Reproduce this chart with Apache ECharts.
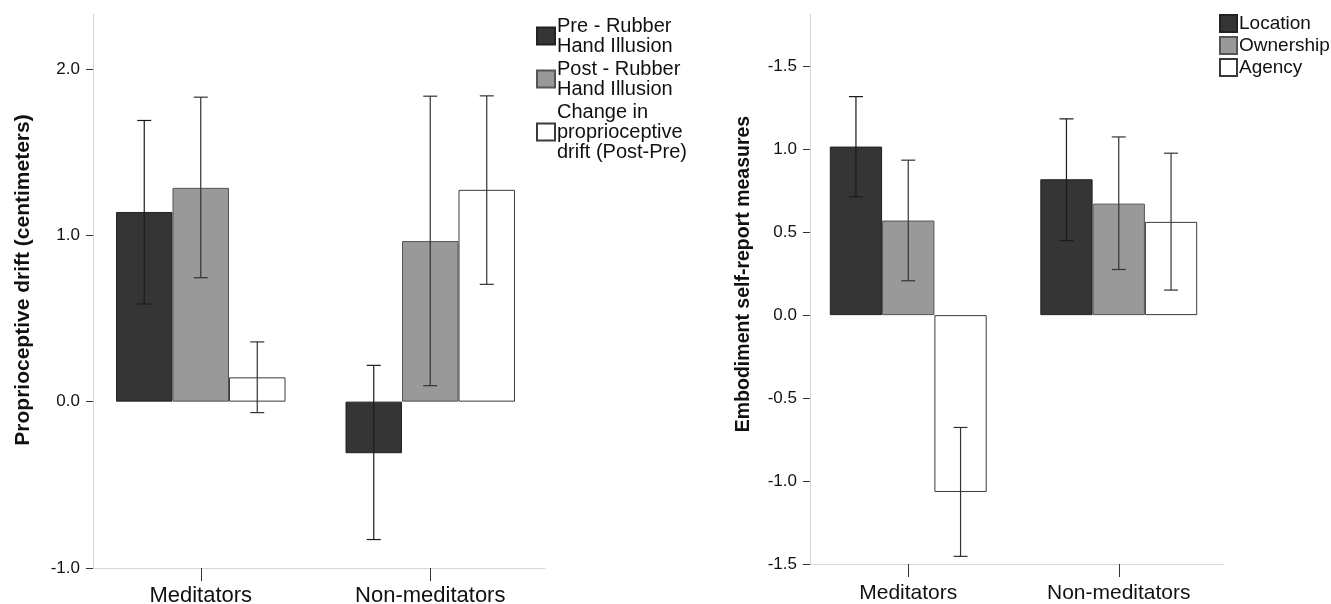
<!DOCTYPE html>
<html>
<head>
<meta charset="utf-8">
<script src="https://cdn.jsdelivr.net/npm/echarts@6.0.0/dist/echarts.min.js"></script>
<style>
  html, body { margin: 0; padding: 0; background: #fff; }
  #chart { width: 1331px; height: 604px; }
</style>
</head>
<body>
<div id="chart"></div>
<script>
// groups on both panels
const categories = ['Meditators', 'Non-meditators'];

// left panel: proprioceptive drift (cm), mean and error bar ends
const driftNames = ['Pre - Rubber\nHand Illusion', 'Post - Rubber\nHand Illusion', 'Change in\nproprioceptive\ndrift (Post-Pre)'];
const preMean = [1.14, -0.31];
const preLow = [0.587, -0.829];
const preHigh = [1.69, 0.218];
const postMean = [1.285, 0.965];
const postLow = [0.745, 0.096];
const postHigh = [1.83, 1.836];
const changeMean = [0.146, 1.273];
const changeLow = [-0.066, 0.705];
const changeHigh = [0.359, 1.838];
const driftTicks = [-1, 0, 1, 2];
const driftTickLabels = ['-1.0', '0.0', '1.0', '2.0'];

// right panel: embodiment self-report
const embodNames = ['Location', 'Ownership', 'Agency'];
const locationMean = [1.016, 0.819];
const locationLow = [0.713, 0.449];
const locationHigh = [1.317, 1.183];
const ownershipMean = [0.570, 0.672];
const ownershipLow = [0.207, 0.275];
const ownershipHigh = [0.934, 1.074];
const agencyMean = [-1.066, 0.562];
const agencyLow = [-1.454, 0.151];
const agencyHigh = [-0.677, 0.976];
const embodTicks = [-1.5, -1, -0.5, 0, 0.5, 1, 1.5];
const embodTickLabels = ['-1.5', '-1.0', '-0.5', '0.0', '0.5', '1.0', '-1.5'];

const FONT = '"Liberation Sans", Arial, sans-serif';
const fills = ['#353535', '#999999', '#ffffff'];
const borders = ['#222222', '#555555', '#3a3a3a'];

const tickFormatter = (ticks, labels) => (v) => {
  const i = ticks.findIndex((t) => Math.abs(t - v) < 1e-6);
  return i < 0 ? '' : labels[i];
};

const barSeries = (name, values, idx, grid, width) => ({
  name,
  type: 'bar',
  xAxisIndex: grid,
  yAxisIndex: grid,
  data: values,
  barWidth: width,
  barGap: '0%',
  itemStyle: { color: fills[idx], borderColor: borders[idx], borderWidth: 1 },
  emphasis: { disabled: true },
  z: 2,
});

// error bars, shifted to sit on the middle of each bar
const errSeries = (low, high, idx, grid, width) => ({
  type: 'custom',
  xAxisIndex: grid,
  yAxisIndex: grid,
  data: categories.map((c, i) => [i, low[i], high[i]]),
  encode: { x: 0, y: [1, 2] },
  z: 5,
  silent: true,
  renderItem: (params, api) => {
    const c = api.value(0);
    const lo = api.coord([c, api.value(1)]);
    const hi = api.coord([c, api.value(2)]);
    const x = lo[0] + (idx - 1) * width;
    const cap = 7;
    const style = { stroke: idx === 0 ? '#1a1a1a' : '#333', lineWidth: 1.2 };
    return {
      type: 'group',
      children: [
        { type: 'line', shape: { x1: x, y1: lo[1], x2: x, y2: hi[1] }, style },
        { type: 'line', shape: { x1: x - cap, y1: hi[1], x2: x + cap, y2: hi[1] }, style },
        { type: 'line', shape: { x1: x - cap, y1: lo[1], x2: x + cap, y2: lo[1] }, style },
      ],
    };
  },
});

const xAxisOf = (grid, fontSize, margin) => ({
  type: 'category',
  gridIndex: grid,
  data: categories,
  axisLine: { onZero: false, lineStyle: { color: '#d6d6d6', width: 1 } },
  axisTick: { show: true, alignWithLabel: true, length: 13, lineStyle: { color: '#333' } },
  axisLabel: { fontFamily: FONT, fontSize, color: '#111', margin },
});

const yAxisOf = (grid, name, min, max, interval, ticks, labels, gap, nameSize, shift) => ({
  type: 'value',
  gridIndex: grid,
  min,
  max,
  interval,
  offset: -7,
  name,
  nameLocation: 'middle',
  nameGap: gap,
  nameTextStyle: {
    fontFamily: FONT, fontSize: nameSize, fontWeight: 'bold', color: '#111',
    padding: [0, 0, 0, shift],
  },
  splitLine: { show: false },
  axisLine: { show: true, onZero: false, lineStyle: { color: '#d6d6d6', width: 1 } },
  axisTick: { show: true, length: 7, customValues: ticks, lineStyle: { color: '#333' } },
  axisLabel: {
    fontFamily: FONT, fontSize: 17, color: '#111', margin: 13,
    customValues: ticks, formatter: tickFormatter(ticks, labels),
  },
});

const W1 = 56.5;
const W2 = 52.3;

const option = {
  backgroundColor: '#fff',
  animation: false,
  grid: [
    { left: 86, top: 14, width: 459, height: 554, outerBoundsMode: 'none', containLabel: false },
    { left: 803, top: 14, width: 421, height: 550, outerBoundsMode: 'none', containLabel: false },
  ],
  legend: [
    {
      data: driftNames,
      orient: 'vertical',
      left: 536,
      top: 16,
      padding: 0,
      icon: 'rect',
      itemWidth: 18,
      itemHeight: 17,
      itemGap: 3,
      selectedMode: false,
      textStyle: { fontFamily: FONT, fontSize: 20, lineHeight: 20, color: '#111', padding: [0, 0, 0, -3] },
    },
    {
      data: embodNames,
      orient: 'vertical',
      left: 1219,
      top: 14,
      padding: 0,
      icon: 'rect',
      itemWidth: 17,
      itemHeight: 17,
      itemGap: 3,
      selectedMode: false,
      textStyle: { fontFamily: FONT, fontSize: 19, lineHeight: 19, color: '#111', padding: [0, 0, 0, -3] },
    },
  ],
  xAxis: [xAxisOf(0, 22, 17), xAxisOf(1, 21, 19)],
  yAxis: [
    yAxisOf(0, 'Proprioceptive drift (centimeters)', -1, 2.33, 1, driftTicks, driftTickLabels, 59, 21, 22),
    yAxisOf(1, 'Embodiment self-report measures', -1.5, 1.815, 0.5, embodTicks, embodTickLabels, 56, 19.5, 30),
  ],
  series: [
    barSeries(driftNames[0], preMean, 0, 0, W1),
    barSeries(driftNames[1], postMean, 1, 0, W1),
    barSeries(driftNames[2], changeMean, 2, 0, W1),
    errSeries(preLow, preHigh, 0, 0, W1),
    errSeries(postLow, postHigh, 1, 0, W1),
    errSeries(changeLow, changeHigh, 2, 0, W1),
    barSeries(embodNames[0], locationMean, 0, 1, W2),
    barSeries(embodNames[1], ownershipMean, 1, 1, W2),
    barSeries(embodNames[2], agencyMean, 2, 1, W2),
    errSeries(locationLow, locationHigh, 0, 1, W2),
    errSeries(ownershipLow, ownershipHigh, 1, 1, W2),
    errSeries(agencyLow, agencyHigh, 2, 1, W2),
  ],
};

const chart = echarts.init(document.getElementById('chart'), null, { renderer: 'canvas' });
chart.setOption(option);
</script>
</body>
</html>
